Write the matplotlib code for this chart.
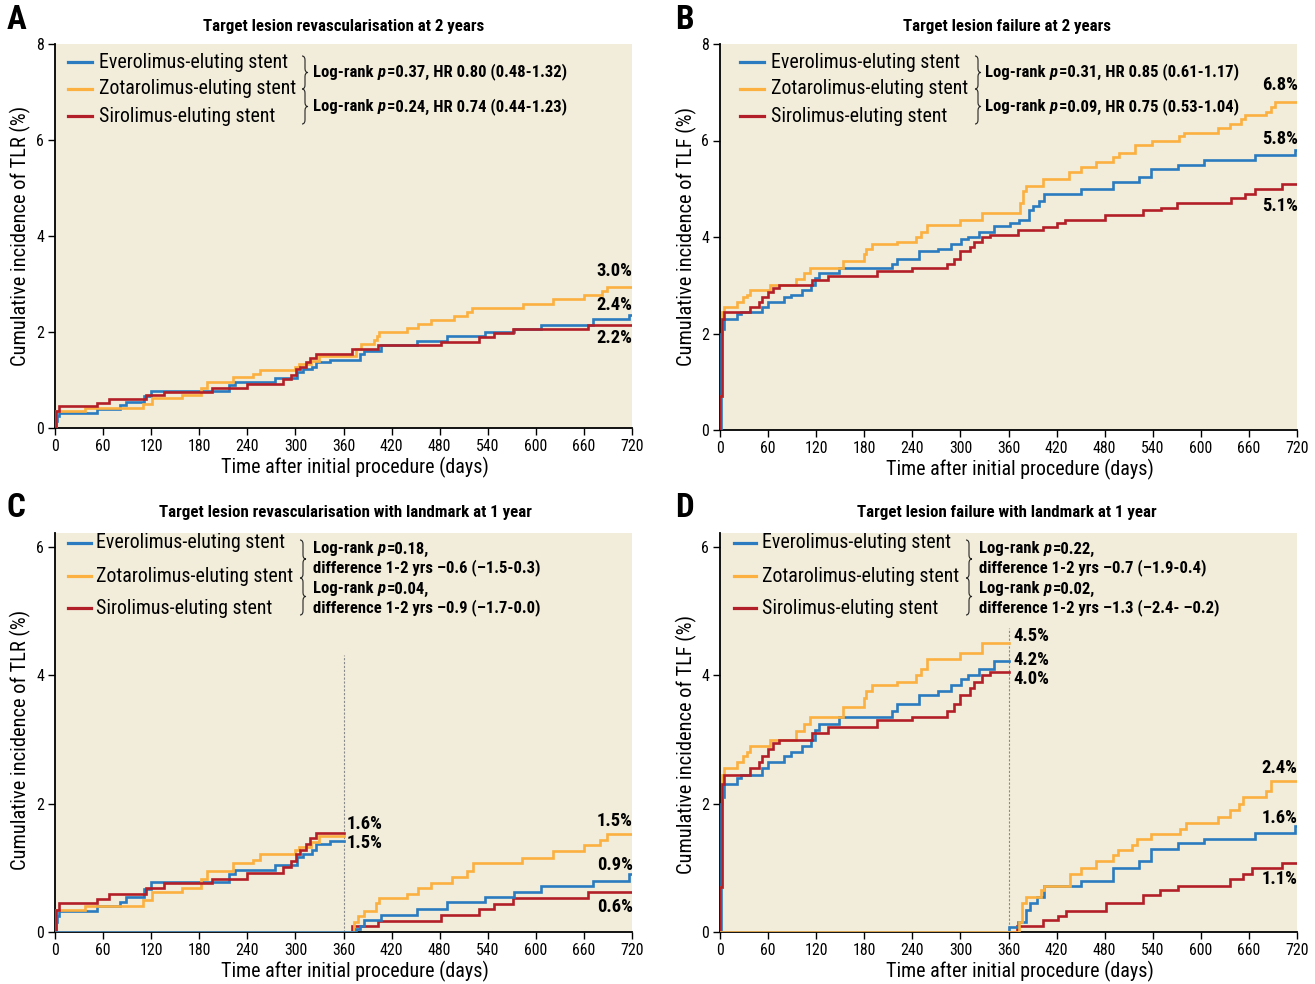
import matplotlib
matplotlib.use('Agg')
import matplotlib.pyplot as plt
from matplotlib import font_manager
from matplotlib.lines import Line2D
from matplotlib.path import Path
from matplotlib.patches import PathPatch
from matplotlib.transforms import Affine2D

# pick the narrowest sans family that is actually installed
installed = {(f.name, f.stretch) for f in font_manager.fontManager.ttflist}
names = {n for n, s in installed}
FONT_STRETCH = 'normal'
if 'Liberation Sans Narrow' in names:
    FONT, K = 'Liberation Sans Narrow', 1.0
elif 'Roboto Condensed' in names:
    FONT, K = 'Roboto Condensed', 0.95
elif ('DejaVu Sans', 'condensed') in installed:
    FONT, K, FONT_STRETCH = 'DejaVu Sans', 0.84, 'condensed'
elif 'Liberation Sans' in names:
    FONT, K = 'Liberation Sans', 0.84
else:
    FONT, K = 'DejaVu Sans', 0.76
plt.rcParams['font.family'] = [FONT, 'DejaVu Sans']
plt.rcParams['font.stretch'] = FONT_STRETCH

W, H = 1315, 984
BLUE = '#2a7bbf'
YELLOW = '#fbb040'
RED = '#b31f28'
BG = '#f2edda'

stent_names = ['Everolimus-eluting stent', 'Zotarolimus-eluting stent', 'Sirolimus-eluting stent']
x_ticks = list(range(0, 721, 60))

# --- TLR, 2 years (panel A) ---
tlr_eve_days = [0, 1, 3, 5, 53, 81, 88, 111, 120, 217, 225, 274, 302, 309, 321, 326, 343, 380, 385, 407, 452, 489, 537, 573, 607, 671, 716, 720]
tlr_eve_pct = [0, 0.15, 0.25, 0.32, 0.40, 0.47, 0.55, 0.67, 0.78, 0.90, 0.96, 1.05, 1.17, 1.22, 1.28, 1.37, 1.42, 1.55, 1.60, 1.72, 1.82, 1.92, 2.00, 2.07, 2.15, 2.27, 2.35, 2.35]
tlr_zot_days = [0, 1, 38, 110, 121, 158, 182, 190, 222, 247, 256, 300, 305, 320, 329, 375, 382, 398, 402, 404, 439, 453, 469, 498, 514, 520, 584, 621, 660, 682, 689, 720]
tlr_zot_pct = [0, 0.35, 0.41, 0.50, 0.62, 0.69, 0.83, 0.95, 1.07, 1.13, 1.21, 1.28, 1.33, 1.40, 1.49, 1.65, 1.74, 1.83, 1.92, 2.00, 2.08, 2.16, 2.25, 2.33, 2.42, 2.50, 2.59, 2.68, 2.77, 2.85, 2.94, 2.94]
tlr_sir_days = [0, 1, 5, 53, 67, 113, 136, 196, 240, 284, 294, 301, 306, 313, 318, 326, 370, 403, 482, 529, 548, 572, 665, 720]
tlr_sir_pct = [0, 0.35, 0.45, 0.52, 0.60, 0.68, 0.76, 0.83, 0.92, 1.02, 1.10, 1.22, 1.28, 1.37, 1.46, 1.55, 1.64, 1.72, 1.80, 1.90, 1.97, 2.07, 2.15, 2.15]

# --- TLF, 2 years (panel B) ---
tlf_eve_days = [0, 1, 3, 5, 21, 26, 52, 60, 80, 89, 102, 114, 119, 123, 148, 215, 221, 248, 272, 288, 301, 310, 323, 342, 362, 373, 386, 391, 398, 404, 450, 490, 523, 538, 572, 604, 668, 717, 720]
tlf_eve_pct = [0, 2.0, 2.1, 2.3, 2.4, 2.45, 2.55, 2.65, 2.75, 2.8, 2.9, 3.0, 3.15, 3.25, 3.35, 3.45, 3.55, 3.7, 3.75, 3.85, 3.95, 4.0, 4.1, 4.22, 4.3, 4.35, 4.55, 4.65, 4.75, 4.9, 5.0, 5.15, 5.25, 5.4, 5.5, 5.6, 5.7, 5.8, 5.8]
tlf_zot_days = [0, 0.5, 2, 3, 5, 21, 29, 34, 37, 62, 95, 105, 112, 154, 180, 182, 190, 221, 244, 251, 258, 299, 327, 374, 378, 382, 403, 436, 450, 469, 491, 498, 518, 539, 573, 579, 621, 637, 650, 655, 681, 688, 692, 720]
tlf_zot_pct = [0, 0.7, 2.3, 2.45, 2.55, 2.65, 2.75, 2.8, 2.9, 3.0, 3.13, 3.25, 3.35, 3.5, 3.65, 3.75, 3.85, 3.9, 4.0, 4.1, 4.25, 4.35, 4.5, 4.7, 4.95, 5.05, 5.2, 5.35, 5.45, 5.55, 5.65, 5.75, 5.9, 6.0, 6.1, 6.15, 6.25, 6.35, 6.45, 6.52, 6.6, 6.7, 6.8, 6.8]
tlf_sir_days = [0, 0.5, 3, 5, 38, 49, 52, 60, 66, 73, 115, 135, 196, 240, 283, 292, 300, 312, 317, 327, 337, 372, 403, 420, 431, 481, 528, 550, 570, 638, 655, 668, 701, 720]
tlf_sir_pct = [0, 0.7, 2.3, 2.45, 2.55, 2.65, 2.75, 2.85, 2.95, 3.0, 3.1, 3.2, 3.3, 3.35, 3.45, 3.55, 3.7, 3.8, 3.9, 4.0, 4.05, 4.15, 4.2, 4.3, 4.35, 4.45, 4.55, 4.6, 4.7, 4.8, 4.9, 5.0, 5.1, 5.1]

# --- landmark analysis, year 2 (panels C and D) ---
lm_tlr_eve_days = [360, 375, 380, 385, 407, 452, 489, 537, 573, 607, 671, 716, 720]
lm_tlr_eve_pct = [0, 0.05, 0.10, 0.18, 0.27, 0.36, 0.46, 0.54, 0.62, 0.72, 0.80, 0.90, 0.90]
lm_tlr_zot_days = [360, 373, 378, 385, 400, 404, 439, 453, 469, 496, 514, 521, 583, 621, 660, 680, 689, 720]
lm_tlr_zot_pct = [0, 0.15, 0.25, 0.32, 0.45, 0.53, 0.60, 0.68, 0.76, 0.85, 0.95, 1.07, 1.16, 1.26, 1.35, 1.43, 1.52, 1.52]
lm_tlr_sir_days = [360, 370, 403, 482, 529, 548, 572, 665, 720]
lm_tlr_sir_pct = [0, 0.10, 0.17, 0.26, 0.36, 0.44, 0.53, 0.62, 0.62]

lm_tlf_eve_days = [360, 361, 372, 382, 387, 396, 404, 450, 491, 523, 538, 572, 604, 668, 717, 720]
lm_tlf_eve_pct = [0, 0.08, 0.15, 0.35, 0.45, 0.55, 0.72, 0.80, 1.00, 1.10, 1.30, 1.38, 1.45, 1.55, 1.65, 1.65]
lm_tlf_zot_days = [360, 373, 377, 382, 401, 404, 437, 450, 469, 491, 497, 514, 520, 538, 574, 581, 621, 636, 648, 653, 681, 688, 720]
lm_tlf_zot_pct = [0, 0.15, 0.45, 0.55, 0.65, 0.72, 0.90, 1.00, 1.10, 1.20, 1.28, 1.35, 1.45, 1.52, 1.60, 1.70, 1.80, 1.90, 2.00, 2.10, 2.20, 2.35, 2.35]
lm_tlf_sir_days = [360, 370, 403, 422, 432, 482, 528, 549, 571, 637, 653, 664, 701, 720]
lm_tlf_sir_pct = [0, 0.10, 0.18, 0.25, 0.32, 0.45, 0.57, 0.65, 0.72, 0.82, 0.90, 1.00, 1.08, 1.08]

landmark = 360

fig = plt.figure(figsize=(W / 100, H / 100), dpi=100)
# reference pixel coordinates, origin top-left
px = Affine2D().scale(1 / W, -1 / H).translate(0, 1) + fig.transFigure


def make_axes(l, r, t, b, ymax, yticks):
    ax = fig.add_axes([l / W, 1 - b / H, (r - l) / W, (b - t) / H])
    ax.set_facecolor(BG)
    ax.set_xlim(0, 720)
    ax.set_ylim(0, ymax)
    ax.set_xticks(x_ticks)
    ax.set_yticks(yticks)
    for s in ['top', 'right']:
        ax.spines[s].set_visible(False)
    for s in ['left', 'bottom']:
        ax.spines[s].set_linewidth(1.3)
    ax.tick_params(direction='out', length=5, width=1, labelsize=12 * K, pad=3)
    return ax


def upto(days, pct, end):
    d = [x for x in days if x <= end]
    p = pct[:len(d)]
    return d + [end], p + [p[-1]]


def curve(ax, days, pct, color, z=3):
    ax.step(days, pct, where='post', color=color, lw=1.9, zorder=z, solid_joinstyle='miter')


def brace(x, yt, yb, w=6, r=4):
    ym = (yt + yb) / 2
    xm = x + w / 2
    verts = [(x, yt), (xm, yt), (xm, yt + r), (xm, ym - r), (xm, ym), (x + w, ym),
             (xm, ym), (xm, ym + r), (xm, yb - r), (xm, yb), (x, yb)]
    codes = [Path.MOVETO, Path.CURVE3, Path.CURVE3, Path.LINETO, Path.CURVE3, Path.CURVE3,
             Path.CURVE3, Path.CURVE3, Path.LINETO, Path.CURVE3, Path.CURVE3]
    fig.add_artist(PathPatch(Path(verts, codes), transform=px, fill=False, lw=0.8, ec='#222222'))


def rich(x, y, parts, size=12.6):
    size = size * K
    rend = fig.canvas.get_renderer()
    for s, italic in parts:
        if s == ' ':
            x += size * 0.35
            continue
        t = fig.text(x, y, s, transform=px, fontsize=size, fontweight='bold',
                     fontstyle='italic' if italic else 'normal', va='center', ha='left')
        x += t.get_window_extent(rend).width + (1 if italic else 0)


def legend(rows, hx0, hx1, tx):
    for yy, c, name in zip(rows, [BLUE, YELLOW, RED], stent_names):
        fig.add_artist(Line2D([hx0, hx1], [yy, yy], transform=px, color=c, lw=2.3))
        fig.text(tx, yy, name, transform=px, fontsize=15.1 * K, va='center', ha='left')


def frame_text(letter, lx, ly, title, tx, ty, ylab, yx, yy, xx, xy):
    fig.text(lx, ly, letter, transform=px, fontsize=25 * K, fontweight='bold', va='center', ha='left')
    fig.text(tx, ty, title, transform=px, fontsize=12.8 * K, fontweight='bold', va='center', ha='center')
    fig.text(yx, yy, ylab, transform=px, fontsize=15.4 * K, rotation=90, va='center', ha='center')
    fig.text(xx, xy, 'Time after initial procedure (days)', transform=px, fontsize=15.2 * K,
             va='center', ha='center')


def end_label(ax, x, y, s, ha):
    ax.text(x, y, s, fontsize=14 * K, fontweight='bold', ha=ha, va='center', zorder=5)


# ---------------- Panel A ----------------
axA = make_axes(55, 632, 44, 428, 8, [0, 2, 4, 6, 8])
curve(axA, tlr_eve_days, tlr_eve_pct, BLUE, 3)
curve(axA, tlr_zot_days, tlr_zot_pct, YELLOW, 3.1)
curve(axA, tlr_sir_days, tlr_sir_pct, RED, 3.2)
end_label(axA, 721, 3.27, '3.0%', 'right')
end_label(axA, 721, 2.56, '2.4%', 'right')
end_label(axA, 721, 1.87, '2.2%', 'right')
frame_text('A', 7, 20, 'Target lesion revascularisation at 2 years', 344, 26,
           'Cumulative incidence of TLR (%)', 20, 236, 355, 467)
legend([62, 89, 116], 68, 92, 99)
brace(302, 56, 89)
brace(302, 89, 124)
rich(313, 72, [('Log-rank', 0), (' ', 0), ('p', 1), ('=0.37, HR 0.80 (0.48-1.32)', 0)])
rich(313, 107, [('Log-rank', 0), (' ', 0), ('p', 1), ('=0.24, HR 0.74 (0.44-1.23)', 0)])

# ---------------- Panel B ----------------
axB = make_axes(720, 1297, 44, 430, 8, [0, 2, 4, 6, 8])
curve(axB, tlf_eve_days, tlf_eve_pct, BLUE, 3)
curve(axB, tlf_zot_days, tlf_zot_pct, YELLOW, 3.1)
curve(axB, tlf_sir_days, tlf_sir_pct, RED, 3.2)
end_label(axB, 721, 7.15, '6.8%', 'right')
end_label(axB, 721, 6.03, '5.8%', 'right')
end_label(axB, 721, 4.64, '5.1%', 'right')
frame_text('B', 675, 20, 'Target lesion failure at 2 years', 1007, 26,
           'Cumulative incidence of TLF (%)', 686, 237, 1020, 469)
legend([62, 89, 116], 740, 764, 771)
brace(975, 56, 89)
brace(975, 89, 124)
rich(985, 72, [('Log-rank', 0), (' ', 0), ('p', 1), ('=0.31, HR 0.85 (0.61-1.17)', 0)])
rich(985, 107, [('Log-rank', 0), (' ', 0), ('p', 1), ('=0.09, HR 0.75 (0.53-1.04)', 0)])

# ---------------- Panel C ----------------
axC = make_axes(55, 632, 533, 932, 6.22, [0, 2, 4, 6])
axC.vlines(landmark, 0, 4.32, colors='#8a8a8a', linestyles=(0, (2, 1.5)), lw=0.8, zorder=2)
curve(axC, *upto(tlr_eve_days, tlr_eve_pct, landmark), BLUE, 3)
curve(axC, *upto(tlr_zot_days, tlr_zot_pct, landmark), YELLOW, 3.1)
curve(axC, *upto(tlr_sir_days, tlr_sir_pct, landmark), RED, 3.2)
curve(axC, [0] + lm_tlr_sir_days, [0] + lm_tlr_sir_pct, RED, 3.3)
curve(axC, [0] + lm_tlr_zot_days, [0] + lm_tlr_zot_pct, YELLOW, 3.4)
curve(axC, [0] + lm_tlr_eve_days, [0] + lm_tlr_eve_pct, BLUE, 3.5)
end_label(axC, 364, 1.68, '1.6%', 'left')
end_label(axC, 364, 1.39, '1.5%', 'left')
end_label(axC, 721, 1.73, '1.5%', 'right')
end_label(axC, 721, 1.04, '0.9%', 'right')
end_label(axC, 721, 0.39, '0.6%', 'right')
frame_text('C', 7, 508, 'Target lesion revascularisation with landmark at 1 year', 345, 513,
           'Cumulative incidence of TLR (%)', 20, 740, 355, 971)
legend([543, 576, 608], 68, 91, 96)
brace(300, 540, 578)
brace(300, 578, 615)
rich(313, 549, [('Log-rank', 0), (' ', 0), ('p', 1), ('=0.18,', 0)])
rich(313, 568, [('difference 1-2 yrs \u20130.6 (\u20131.5-0.3)', 0)])
rich(313, 589, [('Log-rank', 0), (' ', 0), ('p', 1), ('=0.04,', 0)])
rich(313, 608, [('difference 1-2 yrs \u20130.9 (\u20131.7-0.0)', 0)])

# ---------------- Panel D ----------------
axD = make_axes(720, 1297, 533, 932, 6.22, [0, 2, 4, 6])
axD.vlines(landmark, 0, 4.74, colors='#8a8a8a', linestyles=(0, (2, 1.5)), lw=0.8, zorder=2)
curve(axD, *upto(tlf_eve_days, tlf_eve_pct, landmark), BLUE, 3)
curve(axD, *upto(tlf_zot_days, tlf_zot_pct, landmark), YELLOW, 3.1)
curve(axD, *upto(tlf_sir_days, tlf_sir_pct, landmark), RED, 3.2)
curve(axD, [0] + lm_tlf_sir_days, [0] + lm_tlf_sir_pct, RED, 3.3)
curve(axD, [0] + lm_tlf_eve_days, [0] + lm_tlf_eve_pct, BLUE, 3.4)
curve(axD, [0] + lm_tlf_zot_days, [0] + lm_tlf_zot_pct, YELLOW, 3.5)
end_label(axD, 366, 4.61, '4.5%', 'left')
end_label(axD, 366, 4.24, '4.2%', 'left')
end_label(axD, 366, 3.94, '4.0%', 'left')
end_label(axD, 721, 2.56, '2.4%', 'right')
end_label(axD, 721, 1.78, '1.6%', 'right')
end_label(axD, 721, 0.83, '1.1%', 'right')
frame_text('D', 675, 508, 'Target lesion failure with landmark at 1 year', 1007, 513,
           'Cumulative incidence of TLF (%)', 686, 745, 1020, 971)
legend([543, 576, 608], 734, 756, 762)
brace(966, 540, 578)
brace(966, 578, 615)
rich(979, 549, [('Log-rank', 0), (' ', 0), ('p', 1), ('=0.22,', 0)])
rich(979, 568, [('difference 1-2 yrs \u20130.7 (\u20131.9-0.4)', 0)])
rich(979, 589, [('Log-rank', 0), (' ', 0), ('p', 1), ('=0.02,', 0)])
rich(979, 608, [('difference 1-2 yrs \u20131.3 (\u20132.4- \u20130.2)', 0)])

fig.savefig('out.png', dpi=100)
